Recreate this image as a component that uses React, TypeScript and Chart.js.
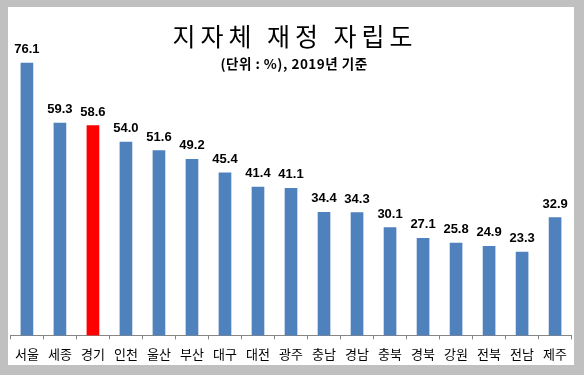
import React, { useEffect, useRef } from "react";
import { Chart, registerables } from "chart.js";

Chart.register(...registerables);

const TITLE = "지자체 재정 자립도";
const SUBTITLE = "(단위 : %), 2019년 기준";
const categories = ["서울", "세종", "경기", "인천", "울산", "부산", "대구", "대전", "광주", "충남", "경남", "충북", "경북", "강원", "전북", "전남", "제주"];
const values = [76.1, 59.3, 58.6, 54.0, 51.6, 49.2, 45.4, 41.4, 41.1, 34.4, 34.3, 30.1, 27.1, 25.8, 24.9, 23.3, 32.9];
const highlight = ["경기"];

const BLUE = "#4f81bd";
const RED = "#ff0000";

const overlayPlugin = {
  id: "overlay",
  afterDatasetsDraw(chart: any) {
    const ctx = chart.ctx as CanvasRenderingContext2D;
    ctx.save();
    // title
    ctx.fillStyle = "#000";
    ctx.textAlign = "center";
    ctx.textBaseline = "middle";
    ctx.font = "400 25px 'Noto Sans CJK KR'";
    (ctx as any).letterSpacing = "5px";
    ctx.fillText(TITLE, 287, 29);
    (ctx as any).letterSpacing = "0.5px";
    ctx.font = "700 13.5px 'Noto Sans CJK KR'";
    ctx.fillText(SUBTITLE, 286, 57);
    (ctx as any).letterSpacing = "0px";
    // data labels
    const meta = chart.getDatasetMeta(0);
    ctx.font = "700 13px 'Liberation Sans'";
    ctx.textBaseline = "alphabetic";
    meta.data.forEach((bar: any, i: number) => {
      ctx.fillText(values[i].toFixed(1), bar.x, bar.y - 10);
    });
    ctx.restore();
  },
};

export default function App() {
  const ref = useRef<HTMLCanvasElement>(null);
  useEffect(() => {
    if (!ref.current) return;
    const chart = new Chart(ref.current, {
      type: "bar",
      data: {
        labels: categories,
        datasets: [
          {
            data: values,
            backgroundColor: categories.map((c) => (highlight.includes(c) ? RED : BLUE)),
            barThickness: 12,
            borderWidth: 0,
          },
        ],
      },
      options: {
        responsive: false,
        devicePixelRatio: 1,
        animation: false,
        layout: { padding: { top: 42, bottom: -4, left: 0, right: 1 } },
        plugins: { legend: { display: false }, tooltip: { enabled: false }, title: { display: false } },
        scales: {
          x: {
            grid: { drawOnChartArea: false, drawTicks: true, tickLength: 4, color: "#868686", offset: true },
            border: { display: true, color: "#868686", width: 1 },
            ticks: { color: "#000", padding: 7, font: { family: "'Noto Sans CJK KR'", size: 13 }, maxRotation: 0, autoSkip: false },
          },
          y: { display: false, min: 0, max: 80 },
        },
      },
      plugins: [overlayPlugin],
    });
    return () => chart.destroy();
  }, []);
  return (
    <div style={{ position: "absolute", left: 0, top: 0, width: 584, height: 375, background: "#c0c0c0" }}>
      <div style={{ position: "absolute", left: 8, top: 7, width: 566, height: 358, background: "#fff" }}>
        <canvas ref={ref} width={566} height={358} />
      </div>
    </div>
  );
}
